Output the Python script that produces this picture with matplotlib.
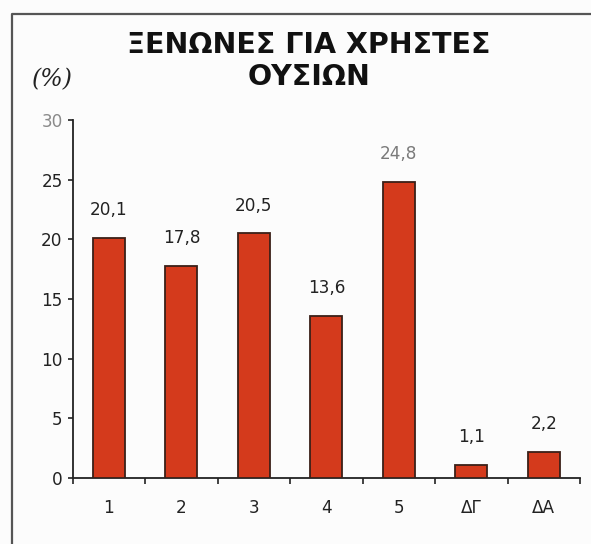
import matplotlib
matplotlib.use("Agg")
import matplotlib.pyplot as plt
from matplotlib.lines import Line2D

# ποσοστά ανά κατηγορία ξενώνα
categories = ["1", "2", "3", "4", "5", "ΔΓ", "ΔΑ"]
values = [20.1, 17.8, 20.5, 13.6, 24.8, 1.1, 2.2]
y_ticks = [0, 5, 10, 15, 20, 25, 30]

BAR_COLOR = "#d43a1c"
EDGE_COLOR = "#3b2018"
TEXT_COLOR = "#222222"

plt.rcParams["font.family"] = ["DejaVu Sans"]

fig = plt.figure(figsize=(5.91, 5.44), dpi=100, facecolor="#fcfcfc")
ax = fig.add_axes([0.123, 0.1213, 0.8584, 0.6581])
ax.set_facecolor("none")

x = list(range(len(categories)))
bars = ax.bar(x, values, width=0.44, color=BAR_COLOR,
              edgecolor=EDGE_COLOR, linewidth=1.3, zorder=3)

for xi, v in zip(x, values):
    ax.annotate(f"{v:.1f}".replace(".", ","), (xi, v),
                xytext=(0, 20), textcoords="offset points",
                ha="center", va="center", fontsize=12.2,
                color="#7a7a7a" if v == max(values) else TEXT_COLOR)

ax.set_xlim(-0.5, len(categories) - 0.5)
ax.set_ylim(0, 30)

# ετικέτες στο κέντρο, γραμμές υποδιαίρεσης στα όρια των κατηγοριών
ax.set_xticks(x)
ax.set_xticklabels(categories, fontsize=12.2, color=TEXT_COLOR)
ax.tick_params(axis="x", which="major", length=0, pad=15)
ax.set_xticks([i - 0.5 for i in range(len(categories) + 1)], minor=True)
ax.tick_params(axis="x", which="minor", length=4.3, width=1.2,
               color=TEXT_COLOR, direction="out")

ax.set_yticks(y_ticks)
ax.set_yticklabels([str(t) for t in y_ticks], fontsize=12.2, color=TEXT_COLOR)
ax.tick_params(axis="y", length=3.6, width=1.2, pad=3.6,
               color=TEXT_COLOR, direction="out")
ax.get_yticklabels()[-1].set_color("#8a8a8a")

for side in ("top", "right"):
    ax.spines[side].set_visible(False)
for side in ("left", "bottom"):
    ax.spines[side].set_color(TEXT_COLOR)
    ax.spines[side].set_linewidth(1.3)

fig.text(0.523, 0.8875, "ΞΕΝΩΝΕΣ ΓΙΑ ΧΡΗΣΤΕΣ\nΟΥΣΙΩΝ",
         ha="center", va="center", multialignment="center",
         fontsize=20.5, fontweight="bold", linespacing=1.18, color="#111111")
fig.text(0.088, 0.853, "(%)", ha="center", va="center",
         fontsize=17, family="DejaVu Serif", style="italic", color=TEXT_COLOR)

# πλαίσιο (πάνω και αριστερή πλευρά)
fig.add_artist(Line2D([12 / 591, 12 / 591, 1.02], [-0.02, 1 - 14 / 544, 1 - 14 / 544],
                      transform=fig.transFigure, color="#555555", linewidth=1.6))

fig.savefig("out.png", dpi=100, facecolor=fig.get_facecolor())
